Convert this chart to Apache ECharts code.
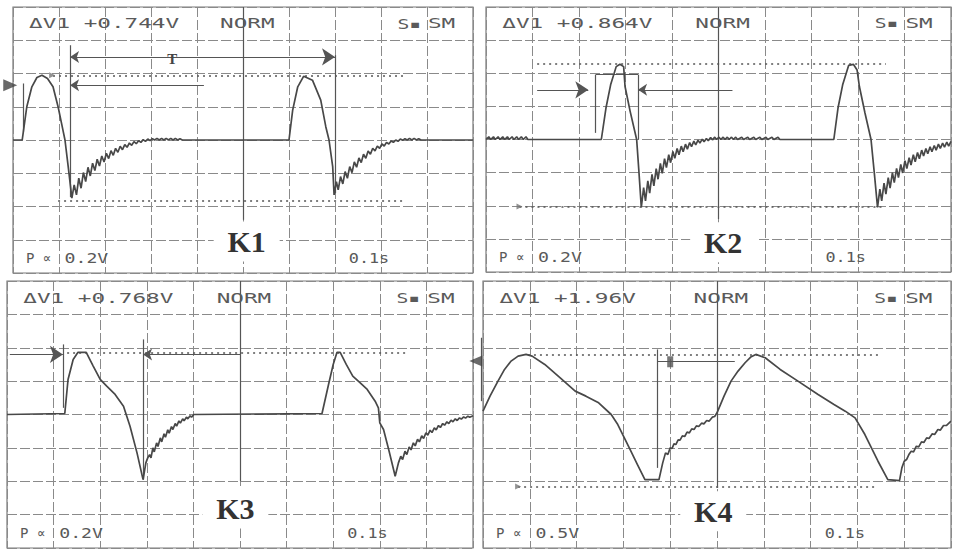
<!DOCTYPE html>
<html><head><meta charset="utf-8">
<script src="https://cdn.jsdelivr.net/npm/echarts/dist/echarts.min.js"></script>
<style>html,body{margin:0;padding:0;background:#fff}#c{width:956px;height:550px}</style>
</head><body><div id="c"></div>
<script>
// ---------- data ----------
const panelNames = ['K1', 'K2', 'K3', 'K4'];
const deltaReadings = ['ΔV1 +0.744V', 'ΔV1 +0.864V', 'ΔV1 +0.768V', 'ΔV1 +1.96V'];
const modeLabel = 'NORM';
const sampleLabels = ['S▪', 'SM'];
const probeLabel = 'P ∝';
const voltsPerDiv = ['0.2V', '0.2V', '0.2V', '0.5V'];
const timePerDiv = '0.1s';
const xDivRange = [0, 10];   // horizontal divisions
const yDivRange = [-4, 4];   // vertical divisions

const traceK1 = [
  [0,0],[0.2,0],[0.22,0.2],[0.30,1.0],[0.41,1.6],[0.52,1.88],[0.63,1.95],[0.75,1.85],[0.87,1.6],[0.98,1.0],[1.07,0.4],[1.13,0.0],[1.2,-0.8],[1.28,-1.75],
  [1.33,-1.35],[1.38,-1.65],[1.43,-1.15],[1.48,-1.45],[1.53,-0.98],[1.58,-1.25],[1.63,-0.82],[1.68,-1.08],[1.73,-0.70],[1.78,-0.92],[1.83,-0.58],[1.88,-0.78],[1.93,-0.48],[1.98,-0.66],[2.03,-0.40],[2.08,-0.56],[2.13,-0.32],[2.18,-0.46],[2.23,-0.25],[2.28,-0.37],[2.33,-0.19],[2.38,-0.29],[2.43,-0.14],[2.48,-0.22],[2.53,-0.09],[2.58,-0.16],[2.63,-0.05],[2.68,-0.11],[2.73,-0.02],[2.78,-0.07],[2.83,0.01],[2.88,-0.04],[2.93,0.03],[2.98,-0.02],[3.03,0.04],[3.08,0.0],[3.13,0.05],[3.18,0.0],[3.23,0.05],[3.28,0.0],[3.33,0.05],[3.38,0.0],[3.43,0.05],[3.48,0.0],[3.53,0.05],[3.58,0.0],[3.63,0.04],[3.68,0.0],
  [6.0,0.0],[6.08,0.9],[6.19,1.6],[6.32,1.92],[6.51,1.8],[6.69,1.2],[6.8,0.4],[6.87,0.0],[6.95,-0.8],[6.98,-1.65],
  [7.03,-1.25],[7.07,-1.5],[7.12,-1.1],[7.17,-1.32],[7.22,-0.95],[7.27,-1.15],[7.32,-0.8],[7.37,-0.98],[7.42,-0.66],[7.47,-0.82],[7.52,-0.54],[7.57,-0.68],[7.62,-0.43],[7.67,-0.55],[7.72,-0.33],[7.77,-0.43],[7.82,-0.25],[7.87,-0.33],[7.92,-0.18],[7.97,-0.25],[8.02,-0.12],[8.07,-0.18],[8.12,-0.07],[8.17,-0.12],[8.22,-0.03],[8.27,-0.07],[8.32,0.0],[8.37,-0.04],[8.42,0.03],[8.47,-0.01],[8.52,0.04],[8.57,0.0],[8.62,0.05],[8.67,0.0],[8.72,0.05],[8.77,0.0],[8.82,0.04],[8.87,0.0],[10,0.0]
];

const traceK2 = [
  [0,0],[0.06,0.08],[0.1,0],[0.16,0.08],[0.2,0],[0.26,0.08],[0.3,0],[0.36,0.08],[0.4,0],[0.46,0.08],[0.5,0],[0.56,0.08],[0.6,0],[0.66,0.08],[0.7,0],[0.76,0.08],[0.8,0],[0.86,0.08],[0.9,0],
  [2.48,0],[2.58,0.95],[2.68,1.65],[2.8,2.2],[2.88,2.27],[2.96,2.2],[2.99,1.6],[3.1,0.85],[3.24,0.0],[3.29,-1.0],[3.34,-2.05],
  [3.39,-1.45],[3.43,-1.85],[3.48,-1.25],[3.52,-1.62],[3.57,-1.05],[3.61,-1.4],[3.66,-0.88],[3.7,-1.2],[3.75,-0.72],[3.79,-1.02],[3.84,-0.58],[3.88,-0.85],[3.93,-0.46],[3.97,-0.7],[4.02,-0.36],[4.06,-0.57],[4.11,-0.27],[4.15,-0.46],[4.2,-0.2],[4.24,-0.37],[4.29,-0.14],[4.33,-0.29],[4.38,-0.09],[4.42,-0.22],[4.47,-0.05],[4.51,-0.16],[4.56,-0.02],[4.6,-0.11],[4.65,0.01],[4.69,-0.07],[4.74,0.03],[4.78,-0.04],[4.83,0.06],[4.87,-0.01],[4.92,0.07],[4.96,0],[5.01,0.07],[5.05,0],[5.1,0.07],[5.14,0],[5.19,0.07],[5.23,0],[5.28,0.07],[5.32,0],[5.37,0.07],[5.41,0],[5.5,0.07],[5.54,0],[5.63,0.07],[5.67,0],[5.76,0.07],[5.8,0],[5.89,0.07],[5.93,0],[6.02,0.07],[6.06,0],[6.15,0.07],[6.19,0],[6.28,0.07],[6.32,0],
  [7.48,0],[7.57,0.95],[7.67,1.65],[7.8,2.24],[7.9,2.27],[7.98,2.1],[8.03,1.6],[8.15,0.8],[8.28,0.0],[8.35,-1.0],[8.42,-2.05],
  [8.47,-1.5],[8.51,-1.85],[8.56,-1.32],[8.6,-1.65],[8.65,-1.15],[8.69,-1.47],[8.74,-1.0],[8.78,-1.3],[8.83,-0.87],[8.87,-1.15],[8.92,-0.75],[8.96,-1.01],[9.01,-0.64],[9.05,-0.88],[9.1,-0.55],[9.14,-0.77],[9.19,-0.46],[9.23,-0.67],[9.28,-0.39],[9.32,-0.58],[9.37,-0.32],[9.41,-0.5],[9.46,-0.27],[9.5,-0.43],[9.55,-0.22],[9.59,-0.37],[9.64,-0.18],[9.68,-0.32],[9.73,-0.14],[9.77,-0.27],[9.82,-0.11],[9.86,-0.23],[9.91,-0.08],[9.95,-0.2],[10,-0.06]
];

const traceK3 = [
  [0,0],[1.24,0.03],[1.31,1.05],[1.42,1.65],[1.52,1.86],[1.7,1.86],[1.85,1.45],[2.0,1.05],[2.14,0.85],[2.32,0.6],[2.5,0.25],[2.64,-0.35],[2.79,-1.15],[2.92,-1.95],[2.98,-1.45],
  [3.02,-1.3],[3.06,-1.2],[3.09,-1.3],[3.13,-1.0],[3.16,-1.12],[3.21,-0.85],[3.24,-0.96],[3.29,-0.7],[3.32,-0.82],[3.37,-0.58],[3.4,-0.68],[3.45,-0.46],[3.48,-0.56],[3.53,-0.36],[3.56,-0.45],[3.61,-0.27],[3.64,-0.35],[3.69,-0.19],[3.72,-0.26],[3.77,-0.13],[3.8,-0.19],[3.85,-0.08],[3.88,-0.13],[3.93,-0.04],[3.96,-0.08],[4.01,0.0],
  [6.76,0.03],[6.9,0.9],[7.0,1.5],[7.08,1.86],[7.15,1.86],[7.28,1.5],[7.42,1.15],[7.58,0.95],[7.73,0.75],[7.9,0.4],[7.97,0.2],[8.0,-0.25],[8.08,-0.45],[8.2,-1.1],[8.33,-1.85],[8.4,-1.45],
  [8.45,-1.25],[8.49,-1.35],[8.54,-1.1],[8.58,-1.2],[8.63,-0.97],[8.67,-1.06],[8.72,-0.85],[8.76,-0.94],[8.81,-0.74],[8.85,-0.82],[8.9,-0.64],[8.94,-0.72],[8.99,-0.55],[9.03,-0.62],[9.08,-0.47],[9.12,-0.54],[9.17,-0.4],[9.21,-0.46],[9.26,-0.33],[9.3,-0.39],[9.35,-0.27],[9.39,-0.32],[9.44,-0.22],[9.48,-0.27],[9.53,-0.17],[9.57,-0.22],[9.62,-0.13],[9.66,-0.18],[9.71,-0.1],[9.75,-0.14],[9.8,-0.07],[9.84,-0.11],[9.89,-0.05],[9.93,-0.08],[10,-0.04]
];

const traceK4 = [
  [0,0.1],[0.15,0.55],[0.32,1.0],[0.46,1.35],[0.6,1.6],[0.75,1.75],[0.92,1.8],[1.05,1.75],[1.32,1.5],[1.65,1.1],[1.97,0.7],[2.2,0.55],[2.46,0.36],[2.74,0.0],[2.88,-0.3],[3.02,-0.7],[3.16,-1.1],[3.3,-1.5],[3.46,-1.95],[3.76,-1.95],
  [3.84,-1.45],[3.9,-1.15],[3.95,-1.2],[4.0,-1.0],[4.04,-1.02],[4.08,-0.88],[4.12,-0.9],[4.17,-0.76],[4.21,-0.77],[4.26,-0.64],[4.31,-0.66],[4.36,-0.53],[4.41,-0.55],[4.46,-0.43],[4.51,-0.45],[4.56,-0.34],[4.61,-0.36],[4.67,-0.26],[4.72,-0.28],[4.78,-0.18],[4.83,-0.2],[4.9,-0.08],[4.95,-0.06],
  [5.0,0.05],[5.15,0.55],[5.3,1.0],[5.45,1.3],[5.6,1.55],[5.72,1.72],[5.83,1.8],[6.03,1.7],[6.35,1.35],[6.73,1.0],[7.16,0.6],[7.5,0.3],[7.74,0.1],[7.95,-0.1],[8.16,-0.6],[8.3,-1.0],[8.44,-1.4],[8.65,-1.95],[8.9,-1.98],
  [8.95,-1.6],[9.0,-1.4],[9.05,-1.35],[9.1,-1.2],[9.15,-1.1],[9.2,-1.12],[9.26,-0.95],[9.31,-0.97],[9.37,-0.82],[9.42,-0.84],[9.48,-0.7],[9.53,-0.72],[9.6,-0.58],[9.65,-0.6],[9.72,-0.45],[9.77,-0.47],[9.84,-0.33],[9.9,-0.33],[10,-0.2]
];
const traces = [traceK1, traceK2, traceK3, traceK4];

// cursor level lines (dotted): [panel, level, xStart, xEnd]
const dottedLevels = [
  [0, 1.92, 0.87, 8.5], [0, -1.83, 0.98, 8.5],
  [1, 2.29, 1.1, 8.6], [1, -2.02, 0.72, 8.53],
  [2, 1.86, 1.29, 8.58],
  [3, 1.8, 0.96, 8.5], [3, -2.16, 0.75, 8.44]
];
// cursor / measurement segments: [panel, x0, y0, x1, y1, arrowAtStart, arrowAtEnd]
const cursorSegments = [
  [0, 0.22, 1.7, 0.22, 0.25, 0, 0],
  [0, 1.24, 2.85, 1.24, -1.72, 0, 0],
  [0, 7.0, 2.55, 7.0, -1.6, 0, 0],
  [0, 1.24, 2.5, 7.0, 2.5, 1, 1],
  [0, 1.24, 1.65, 4.15, 1.65, 1, 0],
  [0, 5, 4, 5, -2.4, 0, 0],
  [1, 2.36, 1.96, 2.36, 0.2, 0, 0],
  [1, 2.36, 1.96, 3.27, 1.96, 0, 0],
  [1, 3.27, 1.96, 3.27, 0, 0, 0],
  [1, 1.1, 1.5, 2.2, 1.5, 0, 1],
  [1, 3.27, 1.5, 5.3, 1.5, 1, 0],
  [1, 5, 4, 5, -2.4, 0, 0],
  [2, 1.2, 2.1, 1.2, 0.2, 0, 0],
  [2, 2.92, 2.25, 2.92, -1.95, 0, 0],
  [2, 0.06, 1.8, 1.2, 1.8, 0, 1],
  [2, 2.92, 1.8, 5.0, 1.8, 1, 0],
  [2, 5, 4, 5, -2.0, 0, 0],
  [3, 3.72, 1.95, 3.72, -1.6, 0, 0],
  [3, 3.72, 1.6, 5.38, 1.6, 0, 0],
  [3, -0.03, 2.3, -0.03, 0.4, 0, 0],
  [3, 5, 4, 5, -2.2, 0, 0]
];
// screen markers: [panel, x, y, kind]
const screenMarkers = [
  [0, -0.06, 1.65, 'right'], [2, 10.06, 1.6, 'left'],
  [0, 0.85, 1.95, 'tick'], [1, 0.72, -2.02, 'tick'], [3, 0.75, -2.16, 'tick'],
  [3, 4.0, 1.58, 'block']
];
const periodLabel = 'T';

// ---------- layout ----------
const grids = [
  {left: 13, top: 7, width: 460, height: 266},
  {left: 486, top: 7, width: 465, height: 265},
  {left: 7, top: 281, width: 466, height: 267},
  {left: 483, top: 281, width: 468, height: 267}
];
const labelCenters = [[5.08, -3.05], [5.1, -3.1], [4.9, -2.82], [4.92, -2.9]];
const gridLine = {color: '#8a8a8a', type: [10, 3], width: 1};
const inkColor = '#484848';

const chart = echarts.init(document.getElementById('c'), null, {renderer: 'svg'});

const xAxes = [], yAxes = [], series = [];
grids.forEach((g, i) => {
  xAxes.push({gridIndex: i, type: 'value', min: xDivRange[0], max: xDivRange[1], interval: 1,
    axisLine: {show: false}, axisTick: {show: false}, axisLabel: {show: false},
    splitLine: {show: true, lineStyle: gridLine}});
  yAxes.push({gridIndex: i, type: 'value', min: yDivRange[0], max: yDivRange[1], interval: 1,
    axisLine: {show: false}, axisTick: {show: false}, axisLabel: {show: false},
    splitLine: {show: true, lineStyle: gridLine}});
  series.push({type: 'line', xAxisIndex: i, yAxisIndex: i, data: traces[i], showSymbol: false, symbol: 'none',
    lineStyle: {color: inkColor, width: 1.7}, z: 5, animation: false});
});
dottedLevels.forEach(d => {
  series.push({type: 'lines', coordinateSystem: 'cartesian2d', xAxisIndex: d[0], yAxisIndex: d[0],
    data: [{coords: [[d[2], d[1]], [d[3], d[1]]]}], symbol: ['none', 'none'], clip: false,
    lineStyle: {color: '#555', width: 1.5, type: [2, 4], opacity: 1}, z: 4, animation: false, silent: true});
});
cursorSegments.forEach(c => {
  series.push({type: 'lines', coordinateSystem: 'cartesian2d', xAxisIndex: c[0], yAxisIndex: c[0],
    data: [{coords: [[c[1], c[2]], [c[3], c[4]]]}], clip: false,
    symbol: [c[5] ? 'arrow' : 'none', c[6] ? 'arrow' : 'none'], symbolSize: [9, 13],
    lineStyle: {color: '#555', width: 1.2, type: 'solid', opacity: 1}, z: 4, animation: false, silent: true});
});
const markerStyle = {
  right: {symbol: 'triangle', rotate: -90, size: [12, 14], fill: '#444'},
  left: {symbol: 'triangle', rotate: 90, size: [11, 13], fill: '#444'},
  tick: {symbol: 'triangle', rotate: -90, size: [6, 6], fill: '#777'},
  block: {symbol: 'rect', rotate: 0, size: [6, 11], fill: '#555'}
};
screenMarkers.forEach(m => {
  const s = markerStyle[m[3]];
  series.push({type: 'scatter', xAxisIndex: m[0], yAxisIndex: m[0], data: [[m[1], m[2]]],
    symbol: s.symbol, symbolRotate: s.rotate, symbolSize: s.size, clip: false,
    itemStyle: {color: s.fill}, z: 6, animation: false, silent: true});
});

chart.setOption({
  backgroundColor: '#ffffff',
  animation: false,
  grid: grids.map(g => Object.assign({show: true, borderColor: '#7a7a7a', borderWidth: 1.2, backgroundColor: 'transparent'}, g)),
  xAxis: xAxes, yAxis: yAxes, series: series
});

// ---------- texts (positioned through the grid coordinates) ----------
const graphics = [];
const monoFont = '14px "DejaVu Sans Mono"';
function addText(i, x, y, text, scale) {
  const p = chart.convertToPixel({gridIndex: i}, [x, y]);
  graphics.push({type: 'text', x: p[0], y: p[1], scaleX: scale, z: 100,
    style: {text: text, font: monoFont, fill: '#5a5a5a', align: 'left', verticalAlign: 'middle'}});
}
panelNames.forEach((name, i) => {
  addText(i, 0.35, 3.5, deltaReadings[i], 1.62);
  addText(i, 4.5, 3.5, modeLabel, 1.62);
  addText(i, 8.36, 3.5, sampleLabels[0], 1.4);
  addText(i, 9.02, 3.5, sampleLabels[1], 1.62);
  addText(i, 0.28, -3.55, probeLabel, 1.0);
  addText(i, 1.12, -3.55, voltsPerDiv[i], 1.3);
  addText(i, 7.3, -3.55, timePerDiv, 1.2);
  const c = chart.convertToPixel({gridIndex: i}, labelCenters[i]);
  graphics.push({type: 'rect', shape: {x: c[0] - 33, y: c[1] - 20, width: 66, height: 40}, style: {fill: '#ffffff'}, z: 90});
  graphics.push({type: 'text', x: c[0], y: c[1], z: 100,
    style: {text: name, font: 'bold 30px "Liberation Serif"', fill: '#333', align: 'center', verticalAlign: 'middle'}});
});
const tp = chart.convertToPixel({gridIndex: 0}, [3.46, 2.45]);
graphics.push({type: 'text', x: tp[0], y: tp[1], z: 100,
  style: {text: periodLabel, font: 'bold 15px "Liberation Serif"', fill: '#444', align: 'center', verticalAlign: 'middle'}});
chart.setOption({graphic: graphics});
</script>
</body></html>
